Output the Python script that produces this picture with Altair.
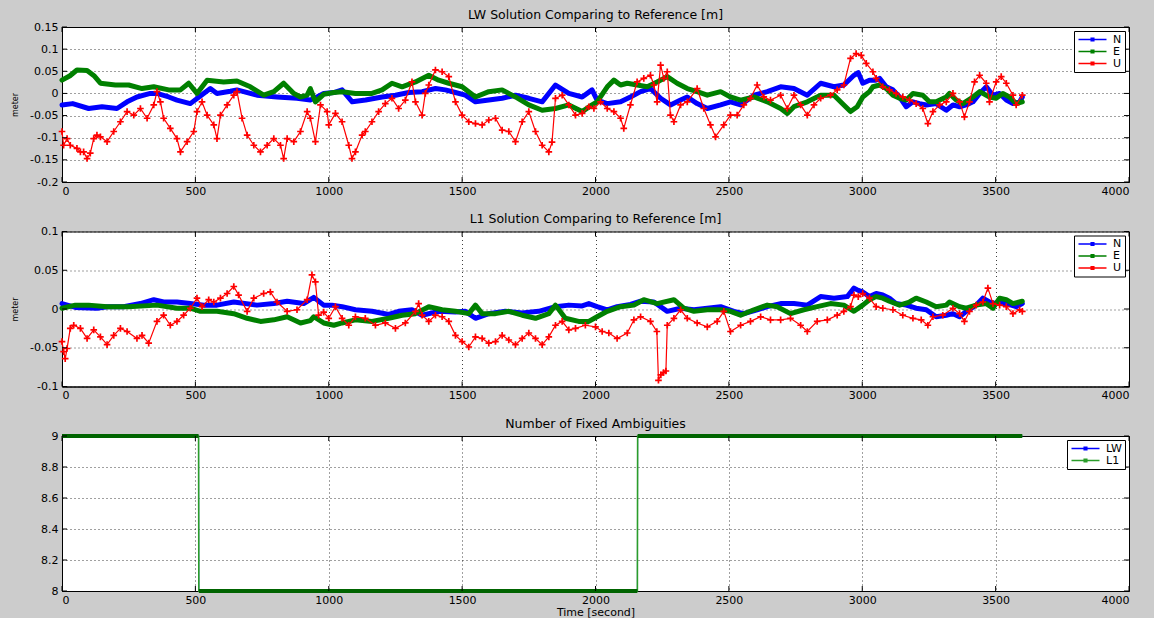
import altair as alt
import pandas as pd

# ---- LW (wide-lane) solution, difference to reference [m] ----
LW_N = [(0, -0.026), (40, -0.023), (100, -0.034), (150, -0.030), (206, -0.034), (244, -0.019),
        (281, -0.008), (331, 0.0), (356, 0.0), (400, -0.008), (431, -0.015), (481, -0.023),
        (531, 0.0), (556, 0.011), (581, 0.0), (631, 0.005), (656, 0.008), (681, 0.004),
        (731, -0.004), (806, -0.008), (881, -0.011), (931, -0.015), (956, -0.008), (981, 0.0),
        (1019, 0.002), (1050, 0.008), (1088, -0.019), (1138, -0.015), (1200, -0.008), (1250, -0.004),
        (1300, 0.002), (1350, 0.004), (1400, 0.011), (1437, 0.008), (1475, 0.002), (1512, -0.004),
        (1550, -0.019), (1600, -0.015), (1650, -0.011), (1700, -0.004), (1750, -0.011), (1800, -0.019),
        (1850, 0.019), (1900, 0.0), (1950, -0.008), (1987, 0.008), (2006, -0.015), (2044, -0.023),
        (2094, -0.019), (2131, -0.008), (2169, 0.004), (2206, 0.011), (2244, -0.011), (2281, -0.026),
        (2319, -0.015), (2344, -0.008), (2381, -0.023), (2419, -0.034), (2469, -0.026), (2506, -0.019),
        (2544, -0.026), (2594, -0.004), (2644, 0.004), (2694, 0.015), (2744, 0.011), (2794, -0.004),
        (2844, 0.023), (2894, 0.015), (2931, 0.019), (2969, 0.041), (2985, 0.047), (3002, 0.023),
        (3027, 0.030), (3052, 0.030), (3065, 0.034), (3090, 0.015), (3115, 0.008), (3140, -0.008),
        (3165, -0.030), (3190, -0.019), (3215, -0.023), (3240, -0.026), (3277, -0.023), (3315, -0.038),
        (3340, -0.026), (3365, -0.030), (3390, -0.026), (3415, -0.019), (3440, 0.0), (3465, 0.015),
        (3490, -0.004), (3515, 0.0), (3540, -0.015), (3565, -0.023), (3590, -0.019), (3600, -0.008)]

LW_E = [(0, 0.030), (30, 0.040), (56, 0.053), (94, 0.052), (120, 0.040), (144, 0.023), (200, 0.019),
        (250, 0.019), (300, 0.011), (344, 0.015), (400, 0.008), (444, 0.008), (475, 0.023), (506, 0.0),
        (544, 0.030), (606, 0.026), (656, 0.028), (706, 0.015), (756, -0.004), (794, 0.004), (831, 0.023),
        (869, 0.0), (894, -0.008), (919, -0.004), (931, 0.011), (950, -0.019), (981, -0.002), (1019, 0.002),
        (1050, 0.004), (1100, 0.0), (1162, 0.0), (1200, 0.008), (1237, 0.023), (1275, 0.015), (1325, 0.026),
        (1375, 0.041), (1412, 0.030), (1450, 0.023), (1500, 0.015), (1550, -0.008), (1600, 0.004),
        (1650, 0.008), (1700, -0.008), (1750, -0.026), (1800, -0.038), (1850, -0.034), (1900, -0.026),
        (1950, -0.041), (1987, -0.026), (2006, -0.019), (2044, 0.015), (2069, 0.030), (2094, 0.019),
        (2119, 0.023), (2156, 0.019), (2194, 0.015), (2231, 0.026), (2269, 0.038), (2306, 0.023),
        (2344, 0.011), (2381, 0.004), (2419, -0.004), (2469, 0.004), (2506, -0.008), (2544, -0.015),
        (2594, -0.008), (2644, -0.019), (2694, -0.034), (2719, -0.045), (2744, -0.030), (2794, -0.019),
        (2844, -0.004), (2894, -0.004), (2931, -0.026), (2956, -0.041), (2981, -0.030), (3002, -0.008),
        (3027, 0.004), (3040, 0.015), (3065, 0.019), (3090, 0.011), (3115, -0.004), (3140, -0.011),
        (3165, -0.015), (3190, 0.0), (3227, -0.004), (3252, -0.019), (3277, -0.019), (3315, -0.008),
        (3327, 0.0), (3352, -0.015), (3377, -0.023), (3415, -0.008), (3440, 0.004), (3477, -0.008),
        (3502, -0.011), (3527, 0.0), (3552, -0.008), (3577, -0.023), (3600, -0.019)]

LW_U = [(0, -0.086), (6, -0.117), (19, -0.102), (31, -0.117), (56, -0.124), (69, -0.132), (81, -0.132),
        (94, -0.147), (106, -0.135), (119, -0.102), (131, -0.094), (144, -0.098), (169, -0.109),
        (194, -0.086), (219, -0.064), (244, -0.041), (269, -0.049), (294, -0.034), (319, -0.056),
        (344, -0.026), (356, 0.004), (369, -0.019), (381, -0.056), (406, -0.079), (431, -0.102),
        (444, -0.132), (469, -0.109), (494, -0.086), (506, -0.041), (525, -0.019), (544, -0.049),
        (569, -0.071), (581, -0.102), (594, -0.049), (619, -0.026), (644, -0.004), (656, 0.004),
        (675, -0.056), (694, -0.094), (719, -0.117), (744, -0.132), (769, -0.117), (794, -0.102),
        (819, -0.117), (831, -0.147), (844, -0.102), (869, -0.109), (894, -0.086), (919, -0.041),
        (931, -0.056), (950, -0.109), (969, -0.026), (994, -0.041), (1000, -0.071), (1025, -0.045),
        (1050, -0.064), (1075, -0.117), (1087, -0.147), (1100, -0.132), (1125, -0.094), (1137, -0.086),
        (1162, -0.064), (1187, -0.041), (1212, -0.023), (1237, -0.011), (1262, -0.034), (1287, -0.015),
        (1312, 0.026), (1325, -0.019), (1350, -0.049), (1362, 0.0), (1375, 0.019), (1400, 0.053),
        (1425, 0.049), (1450, 0.038), (1475, -0.019), (1500, -0.049), (1525, -0.064), (1550, -0.068),
        (1575, -0.071), (1600, -0.060), (1625, -0.056), (1650, -0.083), (1675, -0.086), (1700, -0.109),
        (1725, -0.064), (1750, -0.041), (1775, -0.086), (1800, -0.117), (1825, -0.132), (1837, -0.110),
        (1850, -0.011), (1875, -0.004), (1900, -0.026), (1925, -0.049), (1950, -0.045), (1975, -0.030),
        (1994, -0.034), (2019, -0.019), (2044, -0.034), (2069, -0.041), (2094, -0.056), (2106, -0.079),
        (2131, -0.026), (2156, 0.026), (2181, 0.034), (2206, 0.041), (2219, 0.019), (2231, -0.019),
        (2244, 0.064), (2256, 0.034), (2269, 0.049), (2281, -0.049), (2294, -0.064), (2319, -0.026),
        (2344, -0.019), (2381, 0.011), (2406, -0.034), (2431, -0.071), (2450, -0.098), (2481, -0.071),
        (2506, -0.049), (2531, -0.049), (2556, -0.026), (2581, -0.011), (2606, 0.019), (2631, -0.008),
        (2656, -0.015), (2694, -0.004), (2719, -0.034), (2744, -0.004), (2769, -0.026), (2794, -0.049),
        (2819, -0.026), (2844, -0.011), (2881, -0.004), (2906, 0.008), (2931, 0.019), (2956, 0.079),
        (2977, 0.090), (2996, 0.086), (3015, 0.068), (3040, 0.049), (3052, 0.034), (3077, 0.015),
        (3102, 0.008), (3127, 0.0), (3152, -0.008), (3177, -0.015), (3202, -0.023), (3227, -0.034),
        (3246, -0.068), (3265, -0.041), (3290, -0.026), (3315, -0.019), (3340, 0.0), (3365, -0.019),
        (3383, -0.053), (3402, -0.019), (3421, 0.026), (3440, 0.041), (3465, 0.023), (3477, -0.019),
        (3502, 0.026), (3521, 0.038), (3540, 0.023), (3565, -0.004), (3577, -0.026), (3600, -0.004)]

# ---- L1 solution, difference to reference [m] ----
L1_N = [(0, 0.007), (50, 0.002), (131, 0.001), (169, 0.003), (231, 0.003), (294, 0.007), (344, 0.012),
        (381, 0.009), (431, 0.009), (481, 0.007), (531, 0.005), (581, 0.005), (644, 0.009), (731, 0.005),
        (794, 0.007), (844, 0.010), (906, 0.007), (944, 0.015), (981, 0.005), (1012, 0.005), (1050, 0.003),
        (1100, -0.001), (1162, -0.003), (1225, -0.007), (1262, -0.003), (1312, -0.001), (1350, -0.008),
        (1412, -0.003), (1475, -0.004), (1512, -0.003), (1550, -0.012), (1600, -0.006), (1662, -0.003),
        (1725, -0.005), (1787, -0.003), (1850, 0.003), (1900, 0.005), (1950, 0.004), (1975, 0.007),
        (2006, 0.003), (2044, -0.001), (2081, 0.003), (2131, 0.006), (2169, 0.010), (2219, 0.009),
        (2269, -0.003), (2319, 0.001), (2369, -0.001), (2419, 0.001), (2469, 0.003), (2519, -0.003),
        (2556, -0.006), (2606, -0.001), (2644, 0.003), (2694, 0.007), (2744, 0.007), (2794, 0.005),
        (2844, 0.016), (2894, 0.014), (2944, 0.016), (2969, 0.027), (2985, 0.024), (3002, 0.022),
        (3027, 0.016), (3052, 0.020), (3077, 0.018), (3102, 0.014), (3127, 0.007), (3165, 0.005),
        (3202, 0.001), (3240, -0.001), (3277, -0.010), (3315, -0.008), (3340, -0.006), (3365, -0.010),
        (3390, -0.003), (3427, 0.005), (3452, 0.014), (3477, 0.009), (3502, 0.007), (3540, 0.007),
        (3577, 0.003), (3600, 0.007)]

L1_E = [(0, 0.001), (50, 0.005), (100, 0.005), (169, 0.003), (250, 0.003), (356, 0.005), (431, 0.001),
        (481, 0.001), (519, -0.003), (581, -0.003), (644, -0.006), (694, -0.012), (744, -0.016),
        (794, -0.014), (844, -0.010), (894, -0.018), (931, -0.015), (944, -0.010), (981, -0.018),
        (1019, -0.021), (1050, -0.018), (1100, -0.014), (1162, -0.016), (1225, -0.012), (1275, -0.008),
        (1325, -0.006), (1375, 0.003), (1425, -0.001), (1475, -0.003), (1525, -0.006), (1550, 0.005),
        (1575, -0.006), (1625, -0.006), (1675, -0.003), (1725, -0.008), (1775, -0.012), (1825, -0.006),
        (1850, 0.005), (1887, -0.012), (1937, -0.016), (1975, -0.016), (2006, -0.010), (2044, -0.003),
        (2094, 0.003), (2144, 0.005), (2181, 0.012), (2231, 0.007), (2294, 0.012), (2331, 0.001),
        (2369, -0.003), (2419, -0.001), (2469, -0.001), (2506, -0.003), (2544, -0.008), (2594, -0.001),
        (2644, 0.005), (2681, 0.003), (2731, -0.006), (2781, -0.001), (2831, 0.003), (2881, 0.007),
        (2931, 0.005), (2969, -0.003), (3002, 0.005), (3027, 0.012), (3052, 0.016), (3077, 0.014),
        (3102, 0.010), (3140, 0.005), (3177, 0.009), (3202, 0.014), (3240, 0.009), (3277, 0.003),
        (3315, 0.005), (3327, 0.009), (3365, 0.003), (3390, 0.001), (3427, 0.005), (3465, 0.007),
        (3490, 0.001), (3515, 0.014), (3540, 0.012), (3565, 0.007), (3600, 0.010)]

L1_U = [(0, -0.042), (6, -0.055), (12, -0.064), (19, -0.051), (31, -0.025), (44, -0.021), (69, -0.025),
        (94, -0.038), (119, -0.027), (144, -0.036), (169, -0.046), (194, -0.034), (219, -0.025),
        (244, -0.029), (281, -0.038), (300, -0.034), (325, -0.044), (356, -0.016), (381, -0.008),
        (406, -0.021), (431, -0.016), (456, -0.008), (481, 0.001), (506, 0.014), (525, 0.003),
        (550, 0.012), (569, 0.009), (594, 0.014), (619, 0.020), (644, 0.029), (662, 0.018), (694, -0.003),
        (719, 0.014), (756, 0.020), (781, 0.022), (806, 0.009), (844, -0.003), (881, -0.001), (919, 0.012),
        (937, 0.044), (950, 0.035), (962, -0.008), (981, -0.004), (1000, -0.012), (1025, 0.003),
        (1050, -0.012), (1075, -0.021), (1100, -0.010), (1137, -0.012), (1175, -0.021), (1212, -0.018),
        (1250, -0.025), (1287, -0.018), (1325, -0.003), (1337, 0.007), (1350, -0.008), (1375, -0.016),
        (1400, -0.008), (1425, -0.010), (1450, -0.016), (1475, -0.034), (1500, -0.042), (1525, -0.049),
        (1550, -0.036), (1575, -0.038), (1600, -0.044), (1625, -0.042), (1650, -0.034), (1675, -0.040),
        (1700, -0.046), (1725, -0.038), (1750, -0.031), (1775, -0.038), (1800, -0.046), (1825, -0.036),
        (1850, -0.021), (1875, -0.016), (1900, -0.027), (1925, -0.025), (1962, -0.021), (2000, -0.023),
        (2025, -0.029), (2050, -0.031), (2081, -0.038), (2119, -0.031), (2144, -0.014), (2169, -0.010),
        (2206, -0.016), (2230, -0.029), (2236, -0.092), (2245, -0.085), (2255, -0.082), (2264, -0.080),
        (2269, -0.021), (2294, -0.012), (2319, -0.001), (2344, -0.012), (2381, -0.018), (2419, -0.023),
        (2456, -0.016), (2481, -0.003), (2506, -0.029), (2544, -0.021), (2581, -0.016), (2619, -0.010),
        (2656, -0.014), (2694, -0.014), (2731, -0.012), (2769, -0.021), (2794, -0.029), (2831, -0.016),
        (2869, -0.014), (2906, -0.008), (2931, -0.003), (2956, 0.003), (2969, 0.018), (2985, 0.016),
        (3002, 0.020), (3027, 0.014), (3052, 0.003), (3077, 0.001), (3115, -0.001), (3152, -0.008),
        (3190, -0.012), (3221, -0.014), (3246, -0.021), (3265, -0.010), (3302, -0.008), (3340, 0.001),
        (3365, -0.006), (3383, -0.016), (3402, -0.003), (3427, 0.005), (3452, 0.009), (3471, 0.027),
        (3490, 0.007), (3515, 0.005), (3540, 0.003), (3565, -0.006), (3590, -0.001), (3600, -0.003)]

# ---- number of fixed ambiguities: (first epoch, last epoch, count) ----
FIXED_LW = [(0, 512, 9), (513, 2157, 8), (2158, 3600, 9)]
FIXED_L1 = [(0, 512, 9), (513, 2157, 8), (2158, 3600, 9)]

X_TICKS = [0, 500, 1000, 1500, 2000, 2500, 3000, 3500, 4000]
LW_TICKS = [-0.2, -0.15, -0.1, -0.05, 0, 0.05, 0.1, 0.15]
L1_TICKS = [-0.1, -0.05, 0, 0.05, 0.1]
FIX_TICKS = [8, 8.2, 8.4, 8.6, 8.8, 9]

NEU = ["N", "E", "U"]
NEU_COLORS = ["#0000ff", "#008000", "#ff0000"]

W, H = 1067, 155
FONT = "DejaVu Sans"
LABEL_EXPR = "'' + round(datum.value * 100) / 100"
LEGEND_SYMBOL = "M-3.5,0H3.5M-0.35,-0.35H0.35V0.35H-0.35Z"
PLUS = "M-1,0H1M0,-1V1"


def long_frame(**series):
    rows = []
    for name, pts in series.items():
        for t, v in pts:
            rows.append({"t": t, "v": v, "s": name})
    return pd.DataFrame(rows)


def make_legend():
    return alt.Legend(
        title=None, orient="top-right", offset=4, padding=3,
        fillColor="white", strokeColor="black",
        symbolType=LEGEND_SYMBOL, symbolSize=64, symbolStrokeWidth=1.3,
        symbolOffset=10, labelOffset=15, rowPadding=0,
        labelFont=FONT, labelFontSize=11, labelColor="black",
    )


def x_enc(title=None):
    axis_kw = dict(values=X_TICKS, format="d", grid=True, ticks=False, labelPadding=3)
    if title:
        axis_kw.update(title=title, titleFontSize=11, titlePadding=1)
    else:
        axis_kw.update(title=None)
    return alt.X("t:Q", scale=alt.Scale(domain=[0, 4000], nice=False, zero=False),
                 axis=alt.Axis(**axis_kw))


def y_enc(domain, ticks, title=None):
    axis_kw = dict(values=ticks, labelExpr=LABEL_EXPR, grid=True, ticks=False, labelPadding=4)
    if title:
        axis_kw.update(title=title, titleFontSize=8, titleAngle=270, titleX=-47, titleY=H / 2,
                       titleAlign="center", titleBaseline="middle")
    else:
        axis_kw.update(title=None)
    return alt.Y("v:Q", scale=alt.Scale(domain=domain, nice=False, zero=False),
                 axis=alt.Axis(**axis_kw))


def inward_ticks(x, y, ticks):
    # short tick marks pointing into the plot box on all four sides
    xt = alt.Chart(pd.DataFrame({"t": X_TICKS}))
    yt = alt.Chart(pd.DataFrame({"v": ticks}))
    return [
        xt.mark_rule(color="black").encode(x=x, y=alt.value(H), y2=alt.value(H - 5)),
        xt.mark_rule(color="black").encode(x=x, y=alt.value(0), y2=alt.value(5)),
        yt.mark_rule(color="black").encode(y=y, x=alt.value(0), x2=alt.value(5)),
        yt.mark_rule(color="black").encode(y=y, x=alt.value(W - 5), x2=alt.value(W)),
    ]


def panel_title(text):
    return alt.TitleParams(text, font=FONT, fontSize=12.5, fontWeight="normal",
                           color="black", offset=0, anchor="middle")


def solution_panel(df, title, domain, ticks):
    color = alt.Color("s:N", scale=alt.Scale(domain=NEU, range=NEU_COLORS), legend=make_legend())
    base = alt.Chart(df)
    x = x_enc()
    y = y_enc(domain, ticks, "meter")
    n_line = base.transform_filter("datum.s == 'N'").mark_line(
        strokeWidth=5, strokeJoin="round", strokeCap="round").encode(x=x, y=y, color=color)
    e_line = base.transform_filter("datum.s == 'E'").mark_line(
        strokeWidth=5, strokeJoin="round", strokeCap="round").encode(x=x, y=y, color=color)
    u_line = base.transform_filter("datum.s == 'U'").mark_line(
        strokeWidth=1.2).encode(x=x, y=y, color=color)
    u_pts = base.transform_filter("datum.s == 'U'").mark_point(
        shape=PLUS, size=44, strokeWidth=1.7, filled=False, opacity=1).encode(x=x, y=y, color=color)
    return alt.layer(n_line, e_line, u_line, u_pts, *inward_ticks(x, y, ticks)).properties(
        width=W, height=H, title=panel_title(title),
    )


def fixed_points(segments):
    pts = []
    for start, end, n in segments:
        pts.append((start, n))
        pts.append((end, n))
    return pts


lw_df = long_frame(N=LW_N, E=LW_E, U=LW_U)
l1_df = long_frame(N=L1_N, E=L1_E, U=L1_U)
fix_df = long_frame(LW=fixed_points(FIXED_LW), L1=fixed_points(FIXED_L1))
seg_df = pd.DataFrame(FIXED_L1, columns=["t", "t2", "v"])

p1 = solution_panel(lw_df, "LW Solution Comparing to Reference [m]", [-0.2, 0.15], LW_TICKS)
p2 = solution_panel(l1_df, "L1 Solution Comparing to Reference [m]", [-0.1, 0.1], L1_TICKS)

fx = x_enc("Time [second]")
fy = y_enc([8, 9], FIX_TICKS)
fcolor = alt.Color("s:N", scale=alt.Scale(domain=["LW", "L1"], range=["#0000ff", "#2a9d2a"]),
                   legend=make_legend())
fbase = alt.Chart(fix_df)
lw_line = fbase.transform_filter("datum.s == 'LW'").mark_line(strokeWidth=0.8).encode(
    x=fx, y=fy, color=fcolor)
l1_line = fbase.transform_filter("datum.s == 'L1'").mark_line(strokeWidth=1.6).encode(
    x=fx, y=fy, color=fcolor)
l1_band = alt.Chart(seg_df).mark_rule(strokeWidth=4, color="#006400").encode(
    x=fx, x2="t2:Q", y=fy)
p3 = alt.layer(lw_line, l1_line, l1_band, *inward_ticks(fx, fy, FIX_TICKS)).properties(
    width=W, height=H, title=panel_title("Number of Fixed Ambiguities"),
)

chart = alt.vconcat(p1, p2, p3, spacing=49.5, bounds="flush").resolve_scale(
    color="independent"
).resolve_legend(
    color="independent"
).properties(
    padding={"left": 10, "top": 8, "right": 24, "bottom": 6},
    background="#cccccc",
).configure_view(
    stroke="black", strokeWidth=1, fill="white",
).configure_axis(
    labelFont=FONT, labelFontSize=11, labelColor="black",
    titleFont=FONT, titleFontWeight="normal", titleColor="black",
    domainColor="black", domainWidth=1,
    gridColor="black", gridDash=[1, 3], gridOpacity=0.75, gridWidth=1,
)

chart.save("out.html", embed_options={"renderer": "svg", "actions": False})
